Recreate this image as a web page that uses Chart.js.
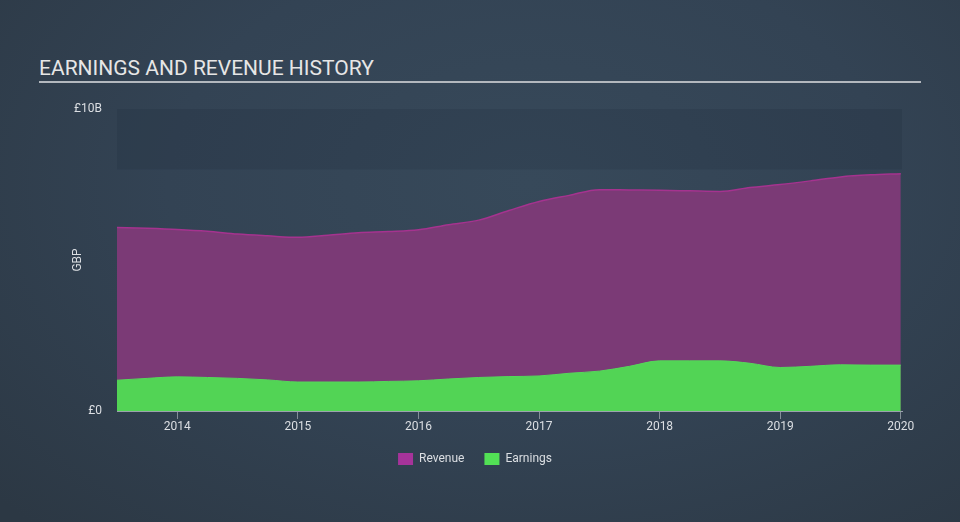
<!DOCTYPE html>
<html>
<head>
<meta charset="utf-8">
<script src="https://cdn.jsdelivr.net/npm/chart.js@4.4.1/dist/chart.umd.min.js"></script>
<style>
  html, body { margin: 0; padding: 0; }
  body {
    width: 960px; height: 522px; overflow: hidden; position: relative;
    background: radial-gradient(ellipse 75% 90% at 55% 35%, #37495a 0%, #334354 50%, #2c3844 100%);
    font-family: Roboto, "Noto Sans", sans-serif;
  }
  #title {
    position: absolute; left: 39px; top: 56px; width: 882px;
    color: #e6e6e6; font-size: 21px; letter-spacing: 0px;
    border-bottom: 2px solid #b3b8be; padding-bottom: 1px; line-height: 24px;
  }
  #wrap { position: absolute; left: 0; top: 0; width: 960px; height: 522px; }
</style>
</head>
<body>
<div id="title">EARNINGS AND REVENUE HISTORY</div>
<div id="wrap"><canvas id="chart" width="960" height="522"></canvas></div>
<script>
// time in decimal years, values in GBP billions
var dates = [2013.5, 2013.75, 2014.0, 2014.25, 2014.5, 2014.75, 2015.0, 2015.25, 2015.5, 2015.75,
             2016.0, 2016.25, 2016.5, 2016.75, 2017.0, 2017.25, 2017.5, 2017.75, 2018.0, 2018.25,
             2018.5, 2018.75, 2019.0, 2019.25, 2019.5, 2019.75, 2020.0];
var revenue = [6.08, 6.05, 6.01, 5.95, 5.86, 5.80, 5.75, 5.82, 5.90, 5.94,
               6.00, 6.17, 6.32, 6.64, 6.94, 7.14, 7.33, 7.32, 7.31, 7.29,
               7.27, 7.40, 7.50, 7.62, 7.75, 7.82, 7.86];
var earnings = [1.02, 1.08, 1.13, 1.11, 1.08, 1.03, 0.96, 0.96, 0.96, 0.98,
                1.00, 1.06, 1.11, 1.14, 1.16, 1.25, 1.32, 1.48, 1.66, 1.66,
                1.66, 1.58, 1.44, 1.48, 1.53, 1.52, 1.52];
var years = [2014, 2015, 2016, 2017, 2018, 2019, 2020];
var yTicks = [0, 10];
var yTickLabels = ["£0", "£10B"];

function pts(vals){
    return vals.map(function(v, i){ return {x: dates[i], y: v}; });
}

// slightly darker band at the top of the plot (8B to 10B)
var bandPlugin = {
    id: 'band',
    beforeDatasetsDraw: function(chart){
        var ctx = chart.ctx, a = chart.chartArea, y = chart.scales.y;
        ctx.save();
        ctx.fillStyle = 'rgba(20,28,38,0.12)';
        var top = y.getPixelForValue(10), bot = y.getPixelForValue(8);
        ctx.fillRect(a.left, top, a.right - a.left, bot - top);
        ctx.restore();
    }
};

new Chart(document.getElementById('chart'), {
    type: 'line',
    data: {
        datasets: [
            {
                label: 'Revenue',
                data: pts(revenue),
                borderColor: '#a5338f',
                borderWidth: 1.5,
                backgroundColor: '#7b3a76',
                fill: 'origin',
                tension: 0.4,
                cubicInterpolationMode: 'monotone',
                pointRadius: 0,
                order: 2
            },
            {
                label: 'Earnings',
                data: pts(earnings),
                borderColor: '#55d85a',
                borderWidth: 1,
                backgroundColor: '#52d455',
                fill: 'origin',
                tension: 0.4,
                cubicInterpolationMode: 'monotone',
                pointRadius: 0,
                order: 1
            }
        ]
    },
    options: {
        responsive: false,
        animation: false,
        layout: { padding: { left: 48, right: 58, top: 109, bottom: 47 } },
        scales: {
            x: {
                type: 'linear',
                min: 2013.5,
                max: 2020.01,
                afterBuildTicks: function(scale){
                    scale.ticks = years.map(function(v){ return {value: v}; });
                },
                afterFit: function(scale){ scale.height = 22; },
                grid: {
                    drawOnChartArea: false,
                    drawTicks: true,
                    tickLength: 8,
                    color: 'rgba(200,205,212,0.55)'
                },
                border: { display: true, color: 'rgba(200,205,212,0.7)', width: 1 },
                ticks: {
                    color: '#dcdfe3',
                    font: { family: 'Roboto', size: 12 },
                    padding: 1,
                    maxRotation: 0,
                    callback: function(v){ return String(v); }
                }
            },
            y: {
                min: 0,
                max: 10,
                afterBuildTicks: function(scale){
                    scale.ticks = yTicks.map(function(v){ return {value: v}; });
                },
                afterFit: function(scale){ scale.width = 69; },
                grid: { display: false, drawTicks: false },
                border: { display: false },
                title: {
                    display: true,
                    text: 'GBP',
                    color: '#dcdfe3',
                    font: { family: 'Roboto', size: 12 },
                    padding: { top: 23, bottom: 0 }
                },
                ticks: {
                    color: '#dcdfe3',
                    font: { family: 'Roboto', size: 12 },
                    padding: 15,
                    callback: function(v){
                        var i = yTicks.indexOf(v);
                        return i >= 0 ? yTickLabels[i] : '';
                    }
                }
            }
        },
        plugins: {
            title: { display: false },
            tooltip: { enabled: false },
            legend: {
                display: true,
                position: 'bottom',
                labels: {
                    color: '#dcdfe3',
                    font: { family: 'Roboto', size: 12 },
                    boxWidth: 15,
                    boxHeight: 12,
                    padding: 20,
                    generateLabels: function(chart){
                        var sw = ['#a6339a', '#52e055'];
                        return chart.data.datasets.map(function(d, i){
                            return {
                                text: d.label,
                                fillStyle: sw[i],
                                strokeStyle: sw[i],
                                lineWidth: 0,
                                fontColor: '#dcdfe3',
                                datasetIndex: i
                            };
                        });
                    }
                }
            }
        }
    },
    plugins: [bandPlugin]
});
</script>
</body>
</html>
